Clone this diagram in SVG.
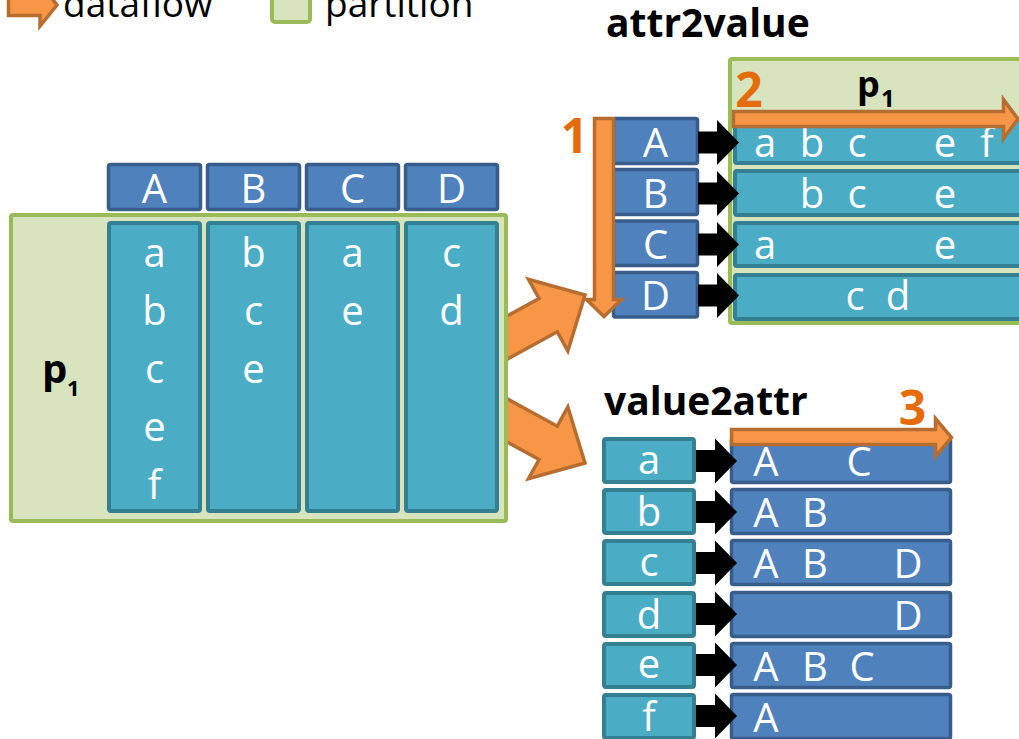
<svg xmlns="http://www.w3.org/2000/svg" width="1019" height="739" viewBox="0 0 1019 739">
  <defs>
    <style>
      .txt { font-family: "Open Sans", "Liberation Sans", sans-serif; }
      .cell { font-family: "Open Sans", "Liberation Sans", sans-serif; font-size: 40px; fill: #FFFFFF; text-anchor: middle; }
      .title { font-family: "Open Sans", "Liberation Sans", sans-serif; font-size: 39px; font-weight: bold; fill: #000000; }
      .sym { font-family: "Open Sans", "Liberation Sans", sans-serif; font-weight: bold; fill: #000000; }
      .num { font-family: "Open Sans", "Liberation Sans", sans-serif; font-size: 48px; font-weight: bold; fill: #E46C0A; text-anchor: middle; }
      .part { fill: #D7E4BD; stroke: #9BBB59; stroke-width: 4; }
      .hdr { fill: #4F81BD; stroke: #385D8A; stroke-width: 3.5; }
      .val { fill: #4BACC6; stroke: #357F93; stroke-width: 4; }
      .flow { fill: #F79646; stroke: #B66D31; stroke-width: 3.5; stroke-linejoin: miter; }
      .ptr { fill: #000000; }
    </style>
    <!-- block arrow pointing along +x, tip at origin -->
    <path id="bigArrow" d="M-130,-19 L-42,-19 L-42,-41 L0,0 L-42,41 L-42,19 L-130,19 Z"/>
    <!-- small black pointer, tail at origin, centred on y=0 -->
    <path id="pointer" d="M0,-11 L19,-11 L19,-22.5 L41,0 L19,22.5 L19,11 L0,11 Z"/>
  </defs>

  <!-- legend -->
  <g id="legend">
    <path class="flow" d="M8.5,-7 L40,-7 L40,-17 L57,5 L40,26 L40,15.5 L8.5,15.5 Z" stroke-width="3"/>
    <text class="txt" x="63" y="17" font-size="37" fill="#000">dataflow</text>
    <rect class="part" x="272" y="-16" width="38" height="38" rx="3"/>
    <text class="txt" x="325" y="17" font-size="37" fill="#000">partition</text>
  </g>

  <!-- dataflow arrows leaving the source partition -->
  <g id="connectors">
    <use href="#bigArrow" class="flow" transform="translate(585,295) rotate(-28.7)"/>
    <use href="#bigArrow" class="flow" transform="translate(0,758) scale(1,-1) translate(585,295) rotate(-28.7)"/>
  </g>

  <!-- source table: partition p1 with columns A-D -->
  <g id="source">
    <rect class="part" x="11" y="215" width="495" height="306" rx="2"/>
    <text class="sym" x="42" y="383" font-size="40">p</text>
    <text class="sym" x="67" y="396" font-size="22">1</text>

    <g id="colA">
      <rect class="hdr" x="108.5" y="164.5" width="92" height="45" rx="2"/>
      <text class="cell" x="154.5" y="203">A</text>
      <rect class="val" x="109" y="223" width="91" height="288" rx="2"/>
      <text class="cell" x="154.5" y="267">a</text>
      <text class="cell" x="154.5" y="325">b</text>
      <text class="cell" x="154.5" y="383">c</text>
      <text class="cell" x="154.5" y="441">e</text>
      <text class="cell" x="154.5" y="499">f</text>
    </g>
    <g id="colB">
      <rect class="hdr" x="207.5" y="164.5" width="92" height="45" rx="2"/>
      <text class="cell" x="253.5" y="203">B</text>
      <rect class="val" x="208" y="223" width="91" height="288" rx="2"/>
      <text class="cell" x="253.5" y="267">b</text>
      <text class="cell" x="253.5" y="325">c</text>
      <text class="cell" x="253.5" y="383">e</text>
    </g>
    <g id="colC">
      <rect class="hdr" x="306.5" y="164.5" width="92" height="45" rx="2"/>
      <text class="cell" x="352.5" y="203">C</text>
      <rect class="val" x="307" y="223" width="91" height="288" rx="2"/>
      <text class="cell" x="352.5" y="267">a</text>
      <text class="cell" x="352.5" y="325">e</text>
    </g>
    <g id="colD">
      <rect class="hdr" x="405.5" y="164.5" width="92" height="45" rx="2"/>
      <text class="cell" x="451.5" y="203">D</text>
      <rect class="val" x="406" y="223" width="91" height="288" rx="2"/>
      <text class="cell" x="451.5" y="267">c</text>
      <text class="cell" x="451.5" y="325">d</text>
    </g>
  </g>

  <!-- attr2value index -->
  <g id="attr2value">
    <text class="title" x="606" y="37">attr2value</text>
    <rect class="part" x="730" y="59" width="300" height="264" rx="2"/>
    <text class="sym" x="857" y="97" font-size="36">p</text>
    <text class="sym" x="881" y="107" font-size="24">1</text>

    <g id="a2v-rows">
      <rect class="val" x="735" y="119" width="290" height="44" rx="2"/>
      <rect class="val" x="735" y="171" width="290" height="44" rx="2"/>
      <rect class="val" x="735" y="223" width="290" height="43" rx="2"/>
      <rect class="val" x="735" y="275" width="290" height="44" rx="2"/>
      <text class="cell" x="765" y="157">a</text>
      <text class="cell" x="812" y="157">b</text>
      <text class="cell" x="857" y="157">c</text>
      <text class="cell" x="945" y="157">e</text>
      <text class="cell" x="987" y="157">f</text>
      <text class="cell" x="812" y="208">b</text>
      <text class="cell" x="857" y="208">c</text>
      <text class="cell" x="945" y="208">e</text>
      <text class="cell" x="765" y="259">a</text>
      <text class="cell" x="945" y="259">e</text>
      <text class="cell" x="855" y="310">c</text>
      <text class="cell" x="898" y="310">d</text>
    </g>

    <g id="a2v-keys">
      <rect class="hdr" x="613.5" y="118.5" width="84" height="45" rx="2"/>
      <rect class="hdr" x="613.5" y="169.5" width="84" height="45" rx="2"/>
      <rect class="hdr" x="613.5" y="221" width="84" height="44.5" rx="2"/>
      <rect class="hdr" x="613.5" y="272.5" width="84" height="44.5" rx="2"/>
      <text class="cell" x="655.5" y="157">A</text>
      <text class="cell" x="655.5" y="208">B</text>
      <text class="cell" x="655.5" y="259">C</text>
      <text class="cell" x="655.5" y="310">D</text>
    </g>

    <g id="a2v-pointers">
      <use href="#pointer" class="ptr" x="698" y="142.5"/>
      <use href="#pointer" class="ptr" x="698" y="193.5"/>
      <use href="#pointer" class="ptr" x="698" y="244.5"/>
      <use href="#pointer" class="ptr" x="698" y="295.5"/>
    </g>

    <!-- scan order 1 and 2 -->
    <path class="flow" stroke-width="3" d="M594.5,118.5 L613.5,118.5 L613.5,299.5 L621.5,299.5 L604,316.5 L586.5,299.5 L594.5,299.5 Z"/>
    <text class="num" x="574.5" y="153">1</text>
    <path class="flow" stroke-width="3" d="M733.5,111.5 L1003.5,111.5 L1003.5,99.5 L1018,119 L1003.5,138.5 L1003.5,126.5 L733.5,126.5 Z"/>
    <text class="num" x="749" y="107">2</text>
  </g>

  <!-- value2attr index -->
  <g id="value2attr">
    <text class="title" x="604" y="415">value2attr</text>

    <g id="v2a-keys">
      <rect class="val" x="604" y="439" width="90" height="43" rx="2"/>
      <rect class="val" x="604" y="490" width="90" height="43" rx="2"/>
      <rect class="val" x="604" y="541" width="90" height="43" rx="2"/>
      <rect class="val" x="604" y="593" width="90" height="43" rx="2"/>
      <rect class="val" x="604" y="644" width="90" height="43" rx="2"/>
      <rect class="val" x="604" y="695" width="90" height="43" rx="2"/>
      <text class="cell" x="649" y="474">a</text>
      <text class="cell" x="649" y="526">b</text>
      <text class="cell" x="649" y="576">c</text>
      <text class="cell" x="649" y="629">d</text>
      <text class="cell" x="649" y="678">e</text>
      <text class="cell" x="649" y="731">f</text>
    </g>

    <g id="v2a-rows">
      <rect class="hdr" x="731.5" y="438.5" width="219" height="44" rx="2"/>
      <rect class="hdr" x="731.5" y="489.5" width="219" height="44" rx="2"/>
      <rect class="hdr" x="731.5" y="540.5" width="219" height="44" rx="2"/>
      <rect class="hdr" x="731.5" y="592.5" width="219" height="44" rx="2"/>
      <rect class="hdr" x="731.5" y="643.5" width="219" height="44" rx="2"/>
      <rect class="hdr" x="731.5" y="694.5" width="219" height="44" rx="2"/>
      <text class="cell" x="766" y="476">A</text>
      <text class="cell" x="859" y="476">C</text>
      <text class="cell" x="766" y="527">A</text>
      <text class="cell" x="815" y="527">B</text>
      <text class="cell" x="766" y="578">A</text>
      <text class="cell" x="815" y="578">B</text>
      <text class="cell" x="908" y="578">D</text>
      <text class="cell" x="908" y="630">D</text>
      <text class="cell" x="766" y="681">A</text>
      <text class="cell" x="815" y="681">B</text>
      <text class="cell" x="862" y="681">C</text>
      <text class="cell" x="766" y="732">A</text>
    </g>

    <g id="v2a-pointers">
      <use href="#pointer" class="ptr" x="696" y="461"/>
      <use href="#pointer" class="ptr" x="696" y="512"/>
      <use href="#pointer" class="ptr" x="696" y="563"/>
      <use href="#pointer" class="ptr" x="696" y="614"/>
      <use href="#pointer" class="ptr" x="696" y="665"/>
      <use href="#pointer" class="ptr" x="696" y="716"/>
    </g>

    <!-- scan order 3 -->
    <path class="flow" stroke-width="3" d="M731.5,429.5 L935.5,429.5 L935.5,418.5 L951.5,437.5 L935.5,456.5 L935.5,444.5 L731.5,444.5 Z"/>
    <text class="num" x="912.5" y="425">3</text>
  </g>
</svg>
